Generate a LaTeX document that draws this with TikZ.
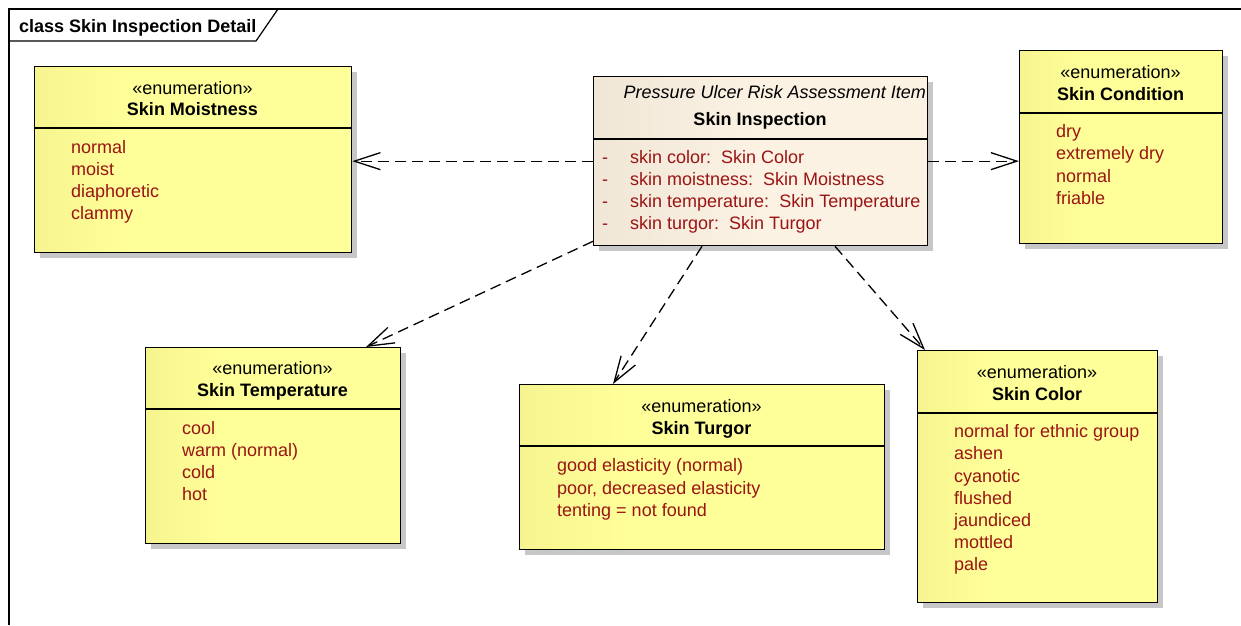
\documentclass[tikz,border=0pt]{standalone}
\usepackage{fontspec}
\setmainfont{Liberation Sans}
\usetikzlibrary{arrows.meta,shadows}
\definecolor{enumleft}{RGB}{230,226,128}
\definecolor{enumright}{RGB}{255,255,153}
\definecolor{classleft}{RGB}{229,219,201}
\definecolor{classright}{RGB}{251,242,228}
\definecolor{litred}{RGB}{155,20,20}
\pgfdeclarehorizontalshading{enumshade}{100bp}{color(0bp)=(enumleft); color(40bp)=(enumright); color(100bp)=(enumright)}
\pgfdeclarehorizontalshading{classshade}{100bp}{color(0bp)=(classleft); color(50bp)=(classright); color(100bp)=(classright)}
\tikzset{
  classbox/.style={draw, line width=1.3pt, anchor=north west, inner sep=0pt, shade, shading=enumshade,
    drop shadow={shadow xshift=5pt, shadow yshift=-5pt, fill=black!22, opacity=1}},
  divider/.style={line width=1.3pt},
  textline/.style={inner sep=0pt, text height=14pt, text depth=1pt},
  stereo/.style={textline, font=\fontsize{18}{20}\selectfont},
  parentname/.style={textline, font=\fontsize{18}{20}\selectfont\itshape},
  classname/.style={textline, font=\fontsize{18}{20}\selectfont\bfseries},
  literal/.style={textline, anchor=west, text=litred, font=\fontsize{18}{20}\selectfont},
  dep/.style={draw, line width=1.3pt, dash pattern=on 11pt off 6pt,
    -{Straight Barb[length=26pt,width=17pt,line width=1.3pt]}}
}

\begin{document}
\begin{tikzpicture}[x=1pt,y=-1pt]
  \useasboundingbox (0,0) rectangle (1241,625);
  \draw[line width=1.2pt] (9,625) -- (9,9) -- (1241,9);
  \draw[line width=1.2pt] (9,41) -- (256,41) -- (278,9);
  \node[classname, anchor=west] (frametitle) at (19,26) {class Skin Inspection Detail};

  \node[classbox, minimum width=317pt, minimum height=186pt] (moistness) at (34,66) {};
  \draw[divider] ([yshift=-62pt]moistness.north west) -- ([yshift=-62pt]moistness.north east);
  \node[stereo] (moistnessstereo) at (192.5,88) {«enumeration»};
  \node[classname] (moistnessname) at (192.5,109) {Skin Moistness};
  \foreach \y/\v [count=\i] in {147/normal,169/moist,191/diaphoretic,213/clammy}
    \node[literal] (moistness\i) at (71,\y) {\v};

  \node[classbox, shading=classshade, minimum width=334pt, minimum height=169pt] (inspection) at (593,76) {};
  \draw[divider] ([yshift=-63pt]inspection.north west) -- ([yshift=-63pt]inspection.north east);
  \node[parentname, anchor=east] (inspectionparent) at (926,92) {Pressure Ulcer Risk Assessment Item};
  \node[classname] (inspectionname) at (760,119) {Skin Inspection};
  \foreach \y/\v [count=\i] in {157/skin color:\ \ Skin Color,179/skin moistness:\ \ Skin Moistness,
      201/skin temperature:\ \ Skin Temperature,223/skin turgor:\ \ Skin Turgor} {
    \node[literal] (inspectionmark\i) at (602,\y) {-};
    \node[literal] (inspection\i) at (630,\y) {\v};
  }

  \node[classbox, minimum width=203pt, minimum height=193pt] (condition) at (1019,50) {};
  \draw[divider] ([yshift=-63pt]condition.north west) -- ([yshift=-63pt]condition.north east);
  \node[stereo] (conditionstereo) at (1120.5,72) {«enumeration»};
  \node[classname] (conditionname) at (1120.5,94) {Skin Condition};
  \foreach \y/\v [count=\i] in {131/dry,153/extremely dry,176/normal,198/friable}
    \node[literal] (condition\i) at (1056,\y) {\v};

  \node[classbox, minimum width=255pt, minimum height=196pt] (temperature) at (145,347) {};
  \draw[divider] ([yshift=-62pt]temperature.north west) -- ([yshift=-62pt]temperature.north east);
  \node[stereo] (temperaturestereo) at (272.5,368) {«enumeration»};
  \node[classname] (temperaturename) at (272.5,390) {Skin Temperature};
  \foreach \y/\v [count=\i] in {428/cool,450/warm (normal),472/cold,494/hot}
    \node[literal] (temperature\i) at (182,\y) {\v};

  \node[classbox, minimum width=365pt, minimum height=165pt] (turgor) at (519,384) {};
  \draw[divider] ([yshift=-62pt]turgor.north west) -- ([yshift=-62pt]turgor.north east);
  \node[stereo] (turgorstereo) at (701.5,406) {«enumeration»};
  \node[classname] (turgorname) at (701.5,428) {Skin Turgor};
  \foreach \y/\v [count=\i] in {465/good elasticity (normal),488/{poor, decreased elasticity},510/tenting = not found}
    \node[literal] (turgor\i) at (557,\y) {\v};

  \node[classbox, minimum width=240pt, minimum height=252pt] (skincolor) at (917,350) {};
  \draw[divider] ([yshift=-63pt]skincolor.north west) -- ([yshift=-63pt]skincolor.north east);
  \node[stereo] (skincolorstereo) at (1037,372) {«enumeration»};
  \node[classname] (skincolorname) at (1037,394) {Skin Color};
  \foreach \y/\v [count=\i] in {431/normal for ethnic group,453/ashen,476/cyanotic,498/flushed,520/jaundiced,542/mottled,564/pale}
    \node[literal] (skincolor\i) at (954,\y) {\v};

  \draw[dep] (inspection.west) -- (inspection.west -| moistness.east);
  \draw[dep] (inspection.east) -- (inspection.east -| condition.west);
  \draw[dep] ([yshift=5pt]inspection.south west) -- ([xshift=221pt]temperature.north west);
  \draw[dep] ([xshift=109pt]inspection.south west) -- ([xshift=94pt]turgor.north west);
  \draw[dep] ([xshift=242pt]inspection.south west) -- ([xshift=8pt]skincolor.north west);
\end{tikzpicture}
\end{document}
